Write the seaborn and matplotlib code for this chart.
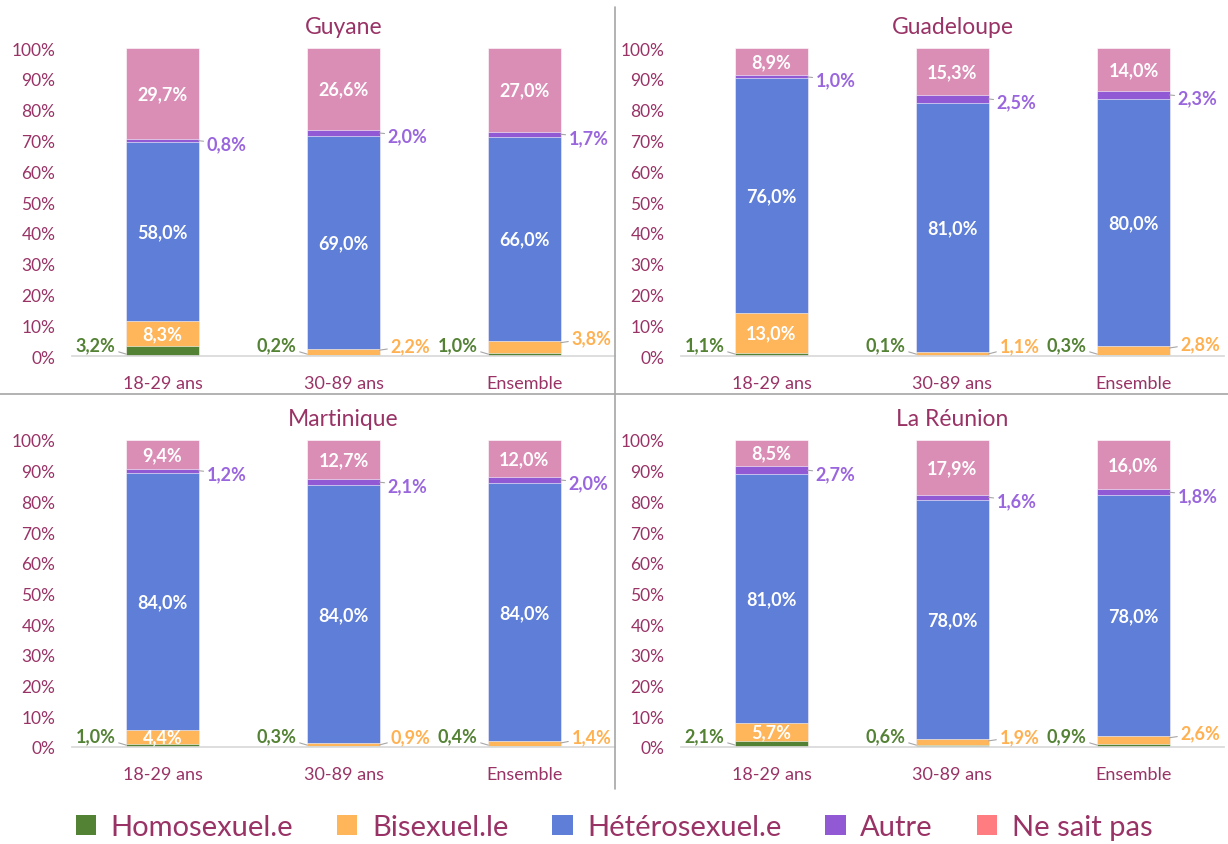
import pandas as pd
import seaborn as sns
import matplotlib.pyplot as plt
from matplotlib.patches import Patch
from matplotlib.lines import Line2D

# Data (values in %)
regions = ["Guyane", "Guadeloupe", "Martinique", "La Réunion"]
groups = ["18-29 ans", "30-89 ans", "Ensemble"]
orientations = ["Homosexuel.e", "Bisexuel.le", "Hétérosexuel.e", "Autre", "Ne sait pas"]

guyane = [[3.2, 8.3, 58.0, 0.8, 29.7],
          [0.2, 2.2, 69.0, 2.0, 26.6],
          [1.0, 3.8, 66.0, 1.7, 27.0]]
guadeloupe = [[1.1, 13.0, 76.0, 1.0, 8.9],
              [0.1, 1.1, 81.0, 2.5, 15.3],
              [0.3, 2.8, 80.0, 2.3, 14.0]]
martinique = [[1.0, 4.4, 84.0, 1.2, 9.4],
              [0.3, 0.9, 84.0, 2.1, 12.7],
              [0.4, 1.4, 84.0, 2.0, 12.0]]
reunion = [[2.1, 5.7, 81.0, 2.7, 8.5],
           [0.6, 1.9, 78.0, 1.6, 17.9],
           [0.9, 2.6, 78.0, 1.8, 16.0]]
region_values = [guyane, guadeloupe, martinique, reunion]

bar_colors = ["#548235", "#FFB55A", "#5E7ED8", "#9159D3", "#DB8EB5"]
legend_colors = ["#548235", "#FFB55A", "#5E7ED8", "#9159D3", "#FF7C80"]
label_colors = {0: "#548235", 1: "#FFB152", 3: "#9A66DD"}
text_color = "#993366"

# long table with 100% normalised cumulative heights
rows = []
for reg, vals in zip(regions, region_values):
    for grp, v in zip(groups, vals):
        total = sum(v)
        cum = 0
        for k, o in enumerate(orientations):
            start = cum
            cum += v[k] / total * 100
            rows.append({"region": reg, "group": grp, "orientation": o,
                         "value": v[k], "start": start, "cum": cum})
df = pd.DataFrame(rows)

sns.set_theme(style="white")
plt.rcParams["font.family"] = ["Lato", "DejaVu Sans"]

fig = plt.figure(figsize=(12.28, 8.45), dpi=100)
W, H = 1228, 845
positions = [(72, 49, 357), (681, 49, 357), (72, 441, 748), (681, 441, 748)]


def fmt(x):
    return f"{x:.1f}%".replace(".", ",")


for reg, (x0, ytop, ybot) in zip(regions, positions):
    ax = fig.add_axes([x0 / W, 1 - ybot / H, 543 / W, (ybot - ytop) / H])
    sub = df[df["region"] == reg]
    # draw cumulative bars from the top layer down
    for k in reversed(range(len(orientations))):
        layer = sub[sub["orientation"] == orientations[k]]
        sns.barplot(data=layer, x="group", y="cum", order=groups,
                    color=bar_colors[k], saturation=1, width=0.4,
                    edgecolor="white", linewidth=0.4, ax=ax)
    ax.set_xlim(-0.5, 2.5)
    ax.set_ylim(0, 100)
    ax.set_yticks(range(0, 101, 10))
    ax.set_yticklabels([f"{t}%" for t in range(0, 101, 10)])
    ax.tick_params(axis="both", length=0, labelsize=12.5, colors=text_color)
    ax.tick_params(axis="x", labelsize=13, pad=14)
    ax.tick_params(axis="y", pad=12)
    ax.set_xlabel("")
    ax.set_ylabel("")
    for s in ["top", "right", "left"]:
        ax.spines[s].set_visible(False)
    ax.spines["bottom"].set_color("#D9D9D9")
    ax.set_title(reg, fontsize=16.5, color=text_color, pad=11)

    for i, grp in enumerate(groups):
        r = sub[sub["group"] == grp].set_index("orientation")
        half = 0.2
        for k, o in enumerate(orientations):
            val = r.loc[o, "value"]
            st, en = r.loc[o, "start"], r.loc[o, "cum"]
            mid = (st + en) / 2
            inside = k in (2, 4) or (k == 1 and val >= 4)
            if inside:
                ax.text(i, mid, fmt(val), ha="center", va="center",
                        color="white", fontsize=13, fontweight="bold")
            elif k == 0:
                ax.annotate(fmt(val), xy=(i - half, 0.6), xytext=(i - half - 0.06, 3.6),
                            ha="right", va="center", color=label_colors[0],
                            fontsize=13, fontweight="bold",
                            arrowprops=dict(arrowstyle="-", color="#A6A6A6", lw=0.8,
                                            shrinkA=0, shrinkB=0))
            elif k == 1:
                ax.annotate(fmt(val), xy=(i + half, en - 0.5), xytext=(i + half + 0.06, max(en + 1, 3.3)),
                            ha="left", va="center", color=label_colors[1],
                            fontsize=13, fontweight="bold",
                            arrowprops=dict(arrowstyle="-", color="#A6A6A6", lw=0.8,
                                            shrinkA=0, shrinkB=0))
            elif k == 3:
                ax.annotate(fmt(val), xy=(i + half, mid), xytext=(i + half + 0.045, mid - 1),
                            ha="left", va="center", color=label_colors[3],
                            fontsize=13, fontweight="bold",
                            arrowprops=dict(arrowstyle="-", color="#A6A6A6", lw=0.8,
                                            shrinkA=0, shrinkB=0))

# separators between panels
fig.add_artist(Line2D([615 / W, 615 / W], [1 - 8 / H, 1 - 790 / H], color="#A6A6A6", lw=1.2))
fig.add_artist(Line2D([0, 1], [1 - 395 / H, 1 - 395 / H], color="#A6A6A6", lw=1.2))

handles = [Patch(facecolor=c, edgecolor="none") for c in legend_colors]
leg = fig.legend(handles, orientations, loc="center", bbox_to_anchor=(0.5, 1 - 828 / H),
                 ncol=5, frameon=False, fontsize=21, handlelength=0.7, handleheight=0.7,
                 handletextpad=0.5, columnspacing=1.5)
for t in leg.get_texts():
    t.set_color(text_color)

fig.savefig("out.png", dpi=100)
